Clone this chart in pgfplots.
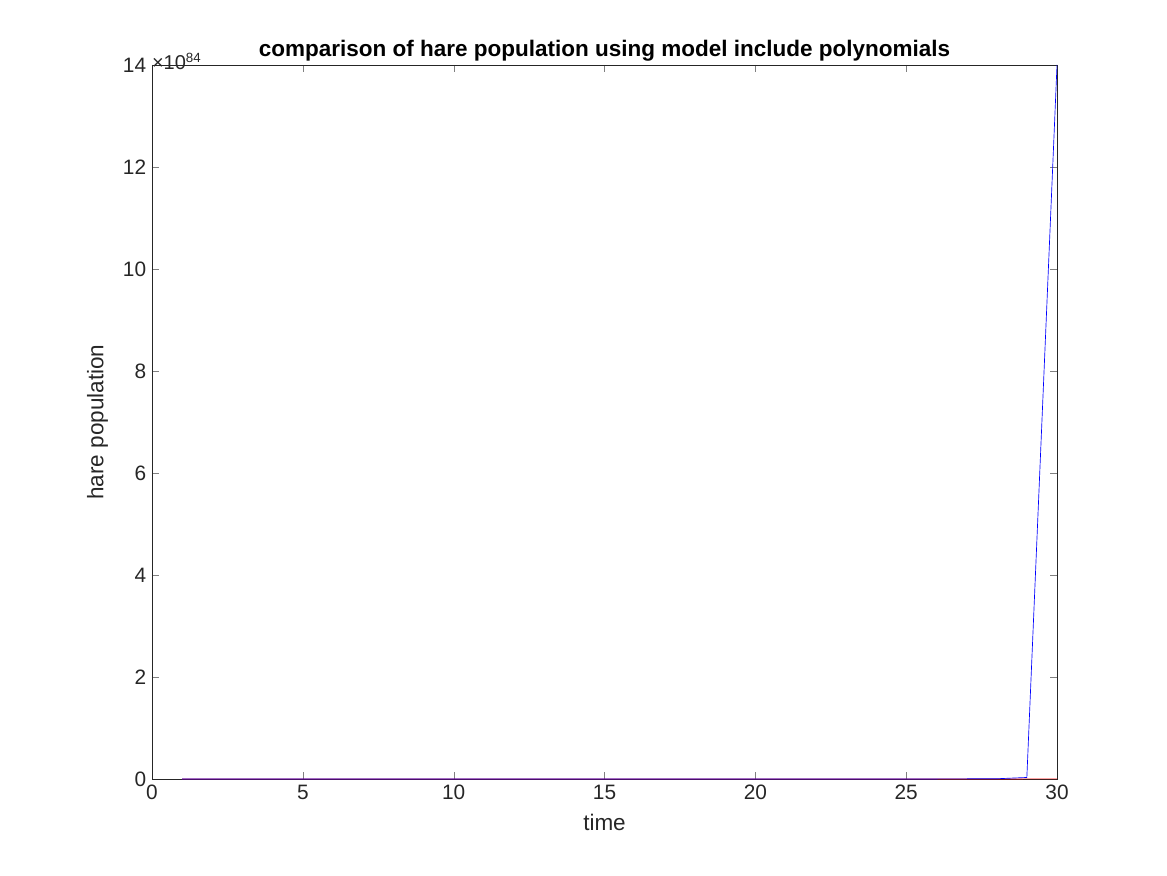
\documentclass[border=0pt]{standalone}
\usepackage{pgfplots}
\pgfplotsset{compat=1.18}
\usepackage{fontspec}
\setmainfont{Liberation Sans}
\begin{document}
\begin{tikzpicture}
\path[use as bounding box] (0,0) rectangle (700.2pt,525pt);
\begin{axis}[at={(91.2pt,57.6pt)},anchor=south west,scale only axis,
width=543pt,height=428.4pt,
xmin=0,xmax=30,ymin=0,ymax=14,
xtick={0,5,...,30},ytick={0,2,...,14},
tick align=inside,tick pos=both,
/pgf/number format/assume math mode=true,
ticklabel style={font=\fontsize{12.5}{14}\selectfont,color=black!85},
label style={font=\fontsize{13.5}{15}\selectfont,color=black!85},
xlabel={time},ylabel={hare population},
xlabel style={yshift=-2pt},ylabel style={yshift=2pt},
title={\bfseries comparison of hare population using model include polynomials},
title style={font=\fontsize{13.5}{15}\selectfont,yshift=-7pt},
axis line style={black!85},
]
\addplot[red,thin] coordinates {(1,0)(2,0)(5,0)(10,0)(15,0)(20,0)(25,0)(28,0)(29,0.002)(30,0.003)};
\addplot[blue,thin] coordinates {(1,0)(2,0)(5,0)(10,0)(15,0)(20,0)(25,0)(28,0.005)(29,0.03)(30,14)};
\end{axis}
\node[anchor=south west,inner sep=0pt,font=\fontsize{12}{14}\selectfont,color=black!85] at (91pt,483pt) {\texttimes10\textsuperscript{84}};
\end{tikzpicture}
\end{document}
